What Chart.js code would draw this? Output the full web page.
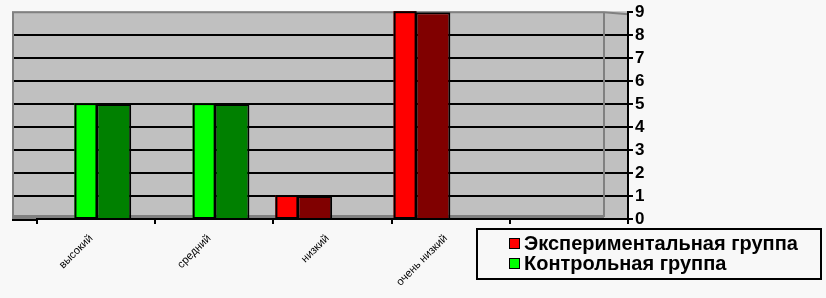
<!DOCTYPE html>
<html>
<head>
<meta charset="utf-8">
<script src="https://cdn.jsdelivr.net/npm/chart.js@4.4.0/dist/chart.umd.min.js"></script>
<style>
  body { margin: 0; background: #f8f8f8; }
  #wrap { position: relative; width: 826px; height: 298px; }
  #legend {
    position: absolute; left: 476px; top: 228px; width: 342px; height: 48px;
    border: 2px solid #000; font: bold 20px "Liberation Sans", Arial, sans-serif; color: #000;
  }
  .row { position: absolute; left: 31px; height: 20px; line-height: 20px; white-space: nowrap; }
  .box { display: inline-block; width: 9px; height: 9px; border: 1px solid #000; margin-right: 4px; vertical-align: 1px; }
</style>
</head>
<body>
<div id="wrap">
  <canvas id="chart" width="826" height="298"></canvas>
  <div id="legend"></div>
</div>
<script>
var categories = ['высокий', 'средний', 'низкий', 'очень низкий', ''];
var experimental = [0, 0, 1, 9, null];
var control = [5, 5, 0, 0, null];
var seriesNames = ['Экспериментальная группа', 'Контрольная группа'];
var yMax = 9;

var frontColors = ['#ff0000', '#00ff00'];
var sideColors = ['#800000', '#008000'];
var font = '"Liberation Sans", Arial, sans-serif';

// legend (html)
var legend = document.getElementById('legend');
seriesNames.forEach(function(name, i) {
    var row = document.createElement('div');
    row.className = 'row';
    row.style.top = (3 + i * 20) + 'px';
    row.innerHTML = '<span class="box" style="background:' + frontColors[i] + '"></span>' + name;
    legend.appendChild(row);
});

// back wall, floor, left part of gridlines
var wallPlugin = {
    id: 'wall',
    beforeDraw: function(chart) {
        var ctx = chart.ctx, a = chart.chartArea, y = chart.scales.y;
        var x0 = a.left - 25, side = a.right - 24;
        ctx.save();
        ctx.fillStyle = '#c0c0c0';
        ctx.fillRect(x0, a.top - 1, a.right - x0, a.bottom - a.top + 1);
        ctx.fillStyle = '#808080';
        ctx.fillRect(x0, a.bottom - 4, side - x0, 4);
        ctx.strokeStyle = '#808080';
        ctx.lineWidth = 2;
        ctx.beginPath();
        ctx.moveTo(x0 + 1, a.bottom);
        ctx.lineTo(x0 + 1, a.top);
        ctx.lineTo(side, a.top);
        ctx.lineTo(a.right, a.top + 2);
        ctx.stroke();
        ctx.strokeStyle = '#000';
        for (var v = 1; v < yMax; v++) {
            var py = Math.round(y.getPixelForValue(v));
            ctx.beginPath();
            ctx.moveTo(x0 + 2, py);
            ctx.lineTo(a.left, py);
            ctx.stroke();
        }
        ctx.restore();
    },
    beforeDatasetsDraw: function(chart) {
        var ctx = chart.ctx, a = chart.chartArea;
        var x0 = a.left - 25, side = a.right - 24;
        ctx.save();
        ctx.strokeStyle = '#808080';
        ctx.lineWidth = 2;
        ctx.beginPath();
        ctx.moveTo(side, a.top);
        ctx.lineTo(side, a.bottom - 2);
        ctx.stroke();
        ctx.strokeStyle = '#000';
        ctx.beginPath();
        ctx.moveTo(x0, a.bottom + 1);
        ctx.lineTo(a.left, a.bottom + 1);
        ctx.stroke();
        ctx.restore();
    },
    // bright front face of each 3d column
    afterDatasetsDraw: function(chart) {
        var ctx = chart.ctx;
        ctx.save();
        chart.data.datasets.forEach(function(ds, i) {
            chart.getDatasetMeta(i).data.forEach(function(bar, j) {
                if (!ds.data[j]) return;
                var p = bar.getProps(['x', 'y', 'base', 'width'], true);
                var fw = Math.round(p.width * 0.64);
                var r = p.x - p.width / 2;
                var top = p.y - 1;
                ctx.fillStyle = frontColors[i];
                ctx.fillRect(r - fw, top, fw, p.base - top);
                ctx.strokeStyle = '#000';
                ctx.lineWidth = 2;
                ctx.strokeRect(r - fw + 1, top + 1, fw - 1, p.base - top - 1);
            });
        });
        ctx.restore();
    }
};

var barData = {
    labels: categories,
    datasets: [{
        label: seriesNames[0],
        data: experimental,
        backgroundColor: sideColors[0]
    }, {
        label: seriesNames[1],
        data: control,
        backgroundColor: sideColors[1]
    }]
};

var ctx = document.getElementById('chart').getContext('2d');
window.myBar = new Chart(ctx, {
    type: 'bar',
    data: barData,
    plugins: [wallPlugin],
    options: {
        responsive: false,
        animation: false,
        devicePixelRatio: 1,
        categoryPercentage: 0.6,
        barPercentage: 0.98,
        datasets: {
            bar: {
                borderColor: '#000',
                borderWidth: function(c) { return c.raw ? 2 : 0; }
            }
        },
        layout: {
            padding: { left: 37, right: 168, top: 10, bottom: 0 }
        },
        plugins: {
            legend: { display: false },
            tooltip: { enabled: false }
        },
        scales: {
            x: {
                offset: true,
                grid: {
                    offset: true,
                    drawOnChartArea: false,
                    color: '#000',
                    lineWidth: 2,
                    tickLength: 5
                },
                border: { color: '#000', width: 2 },
                ticks: {
                    minRotation: 45,
                    maxRotation: 45,
                    padding: 8,
                    labelOffset: -5,
                    color: '#000',
                    font: { family: font, size: 11 }
                },
                afterFit: function(s) { s.height = 79; }
            },
            y: {
                position: 'right',
                min: 0,
                max: yMax,
                grid: {
                    color: function(c) { return (c.tick.value > 0 && c.tick.value < yMax) ? '#000' : 'rgba(0,0,0,0)'; },
                    tickColor: '#000',
                    lineWidth: 2,
                    tickLength: 5
                },
                border: { color: '#000', width: 2 },
                ticks: {
                    stepSize: 1,
                    autoSkip: false,
                    padding: 2,
                    color: '#000',
                    font: { family: font, size: 17, weight: 'bold' }
                },
                afterFit: function(s) { s.width = 30; }
            }
        }
    }
});
</script>
</body>
</html>
